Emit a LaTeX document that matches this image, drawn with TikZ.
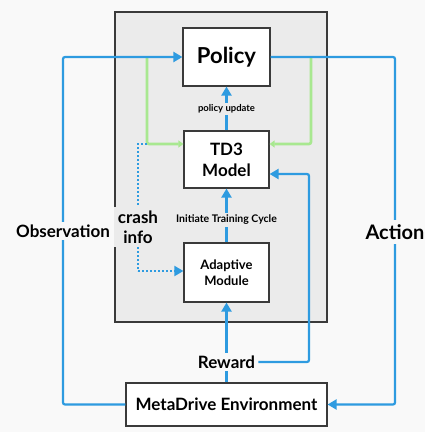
\documentclass[tikz,border=0pt]{standalone}
\usepackage{fontspec}
\setmainfont{Lato}
\usetikzlibrary{arrows.meta}
\definecolor{bgc}{HTML}{F9F9F9}
\definecolor{boxgray}{HTML}{EBEBEB}
\definecolor{edge}{HTML}{3A3A3A}
\definecolor{flow}{HTML}{2E9BE0}
\definecolor{grn}{HTML}{A8E890}
\begin{document}
\begin{tikzpicture}[x=1pt,y=-1pt,
  blk/.style={draw=edge,line width=1.2pt,fill=white,align=center,font=\bfseries,inner sep=0pt},
  flowline/.style={draw=flow,line width=2.2pt,rounded corners=2pt},
  flowarrow/.style={flowline,-{Triangle[length=9pt,width=10pt]}},
  greenline/.style={draw=grn,line width=2.6pt,rounded corners=2pt,-{Triangle[length=5pt,width=7pt]}},
  dotline/.style={draw=flow,line width=2pt,dotted},
  lbl/.style={font=\bfseries,inner sep=2pt,align=center}]
\useasboundingbox[fill=bgc] (0,0) rectangle (425,432);
\node[draw=edge,line width=1.2pt,fill=boxgray,minimum width=212pt,minimum height=310pt,inner sep=0pt] (frame) at (221,167) {};
\node[blk,minimum width=87pt,minimum height=58pt,font=\bfseries\fontsize{22}{24}\selectfont] (policy) at (226.5,57) {Policy};
\node[blk,minimum width=85pt,minimum height=57pt,font=\bfseries\fontsize{17}{21}\selectfont] (td3) at (226.5,159.5) {TD3\\Model};
\node[blk,minimum width=85pt,minimum height=59pt,font=\bfseries\fontsize{13}{16}\selectfont] (adapt) at (226.5,272.5) {Adaptive\\Module};
\node[blk,minimum width=201pt,minimum height=43pt,font=\bfseries\fontsize{17}{19}\selectfont] (env) at (226.5,404.5) {MetaDrive Environment};
% corners
\coordinate (gl) at (147,57);
\coordinate (gr) at (311,57);
\coordinate (glb) at (147,144);
\coordinate (grb) at (311,144);
\coordinate (ol) at (63,404.5);
\coordinate (otop) at (63,57);
\coordinate (ar) at (395,57);
\coordinate (abot) at (395,404.5);
\coordinate (rr) at (309,362);
\coordinate (rtop) at (309,174);
\coordinate (c1) at (138,144);
\coordinate (c2) at (138,271);
% green lines
\draw[greenline] (gl) -- (glb) -- (td3.west |- glb);
\draw[greenline] (gr) -- (grb) -- (td3.east |- grb);
% observation and action
\draw[flowarrow] (env.west) -- (ol) -- (otop) -- (policy.west);
\draw[flowarrow] (policy.east) -- (ar) -- (abot) -- (env.east);
\node[lbl,fill=bgc,font=\bfseries\fontsize{17}{19}\selectfont,inner sep=3pt] (obs) at (63,231) {Observation};
\node[lbl,fill=bgc,font=\bfseries\fontsize{20}{22}\selectfont,inner sep=4pt] (act) at (395,232) {Action};
% reward
\draw[flowarrow] (env.north) -- (adapt.south);
\node[lbl,fill=bgc,font=\bfseries\fontsize{17}{19}\selectfont,inner sep=3pt] (rew) at (226.5,362) {Reward};
\draw[flowarrow] (rew.east) -- (rr) -- (rtop) -- (td3.east |- rtop);
% internal arrows
\draw[flowarrow] (td3.north) -- (policy.south);
\node[lbl,fill=boxgray,font=\bfseries\fontsize{9.5}{11}\selectfont] (pu) at (226.5,109) {policy update};
\draw[flowarrow] (adapt.north) -- (td3.south);
\node[lbl,fill=boxgray,font=\bfseries\fontsize{10.5}{12}\selectfont] (itc) at (226.5,220) {Initiate Training Cycle};
% crash info
\draw[dotline] (glb) -- (c1) -- (c2);
\draw[dotline,-{Triangle[length=9pt,width=10pt]}] (c2) -- (adapt.west |- c2);
\node[lbl,fill=boxgray,font=\bfseries\fontsize{17}{20}\selectfont,inner sep=4pt] (crash) at (138,227) {crash\\info};
\end{tikzpicture}
\end{document}
